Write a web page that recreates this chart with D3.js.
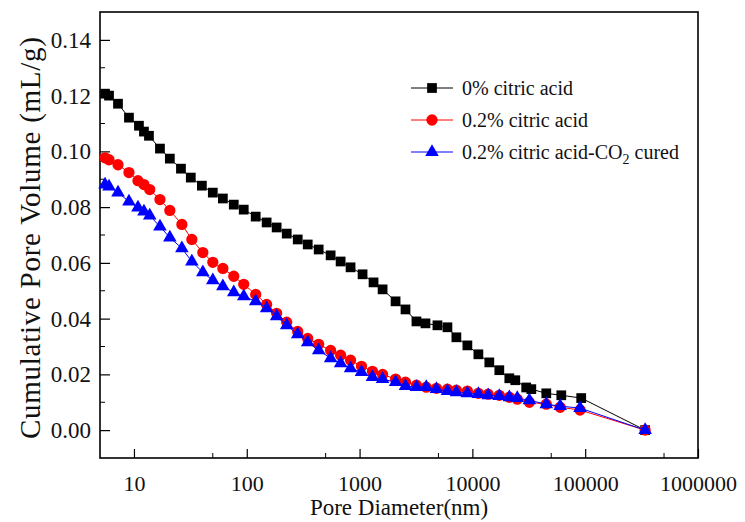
<!DOCTYPE html>
<html>
<head>
<meta charset="utf-8">
<script src="https://cdn.jsdelivr.net/npm/d3@7"></script>
<style>
  body { margin: 0; background: #fff; }
  svg { font-family: "Liberation Serif", "Times New Roman", serif; }
</style>
</head>
<body>
<div id="chart"></div>
<script>
// Pore diameters (nm) and cumulative pore volume (mL/g)
const diamBlack = [5.54, 6.01, 7.22, 9.03, 11.07, 12.26, 13.58, 17.0, 20.8, 26.1, 31.9, 40.0,
  50.0, 61.4, 76.7, 94.0, 120, 150, 184, 226, 283, 347, 434, 554, 679, 832, 1063, 1330,
  1600, 2085, 2553, 3193, 3838, 4900, 6010, 7215, 9030, 11300, 14130, 17330, 21250,
  24000, 30000, 33300, 45200, 61400, 92200, 340000];
const volBlack = [0.1207, 0.1200, 0.1171, 0.1121, 0.1092, 0.1071, 0.1056, 0.1010, 0.0974,
  0.0938, 0.0906, 0.0877, 0.0852, 0.0831, 0.0809, 0.0791, 0.0766, 0.0745, 0.0727, 0.0705,
  0.0684, 0.0666, 0.0648, 0.0627, 0.0605, 0.0584, 0.0559, 0.0530, 0.0505, 0.0462, 0.0433,
  0.0390, 0.0383, 0.0376, 0.0369, 0.0333, 0.0304, 0.0272, 0.0243, 0.0215, 0.0186, 0.0179,
  0.0153, 0.0147, 0.0132, 0.0125, 0.0115, 0.0000];

const diamAcid = [5.54, 6.01, 7.22, 9.03, 10.85, 12.26, 13.8, 17.0, 20.8, 26.6, 32.6, 40.8,
  50.0, 61.4, 76.7, 94.0, 120, 150, 184, 226, 283, 347, 434, 554, 679, 832, 1040, 1300,
  1600, 2085, 2553, 3193, 3900, 4800, 6010, 7215, 9030, 11300, 13800, 17330, 21250,
  25000, 32000, 45200, 60000, 90000, 340000];
const volAcid = [0.0977, 0.0970, 0.0952, 0.0924, 0.0895, 0.0881, 0.0863, 0.0827, 0.0788,
  0.0738, 0.0684, 0.0637, 0.0602, 0.0580, 0.0552, 0.0523, 0.0487, 0.0451, 0.0419, 0.0387,
  0.0354, 0.0329, 0.0308, 0.0286, 0.0269, 0.0251, 0.0229, 0.0211, 0.0200, 0.0183, 0.0172,
  0.0161, 0.0154, 0.0150, 0.0147, 0.0143, 0.0140, 0.0132, 0.0129, 0.0125, 0.0118, 0.0111,
  0.0100, 0.0093, 0.0082, 0.0072, 0.0000];
const volCured = [0.0881, 0.0874, 0.0852, 0.0820, 0.0798, 0.0784, 0.0770, 0.0730, 0.0691,
  0.0652, 0.0605, 0.0566, 0.0537, 0.0516, 0.0494, 0.0480, 0.0462, 0.0437, 0.0408, 0.0376,
  0.0344, 0.0315, 0.0286, 0.0258, 0.0240, 0.0222, 0.0208, 0.0190, 0.0183, 0.0172, 0.0158,
  0.0154, 0.0154, 0.0147, 0.0140, 0.0136, 0.0132, 0.0129, 0.0125, 0.0122, 0.0118, 0.0115,
  0.0107, 0.0093, 0.0086, 0.0079, 0.0000];

const seriesNames = ["0% citric acid", "0.2% citric acid", "0.2% citric acid-CO2 cured"];
const seriesColors = ["#000000", "#ff0000", "#0000ff"];
const xTicks = [10, 100, 1000, 10000, 100000, 1000000];
const yTicks = [0.00, 0.02, 0.04, 0.06, 0.08, 0.10, 0.12, 0.14];

const width = 745, height = 522;
const margin = { top: 12, right: 47, bottom: 64, left: 100 };

const svg = d3.select("#chart")
  .append("svg")
  .attr("width", width)
  .attr("height", height);

const x = d3.scaleLog()
  .domain([5, 1000000])
  .range([margin.left, width - margin.right]);

const y = d3.scaleLinear()
  .domain([-0.01, 0.15])
  .range([height - margin.bottom, margin.top]);

// inward ticks, major + minor
const xAxis = svg.append("g")
  .attr("transform", `translate(0, ${height - margin.bottom})`)
  .call(d3.axisBottom(x).tickValues(xTicks).tickFormat(d3.format("d")).tickSizeInner(-9).tickSizeOuter(0));
xAxis.append("g").selectAll("line")
  .data([50, 500, 5000, 50000, 500000])
  .enter().append("line")
  .attr("x1", d => x(d)).attr("x2", d => x(d))
  .attr("y1", 0).attr("y2", -5)
  .attr("stroke", "black");

const yAxis = svg.append("g")
  .attr("transform", `translate(${margin.left}, 0)`)
  .call(d3.axisLeft(y).tickValues(yTicks).tickFormat(d3.format(".2f")).tickSizeInner(-10).tickSizeOuter(0));
yAxis.append("g").selectAll("line")
  .data([0.01, 0.03, 0.05, 0.07, 0.09, 0.11, 0.13])
  .enter().append("line")
  .attr("y1", d => y(d)).attr("y2", d => y(d))
  .attr("x1", 0).attr("x2", 5)
  .attr("stroke", "black");

svg.selectAll(".tick line").attr("stroke", "black").attr("stroke-width", 1.2);
svg.selectAll(".domain").remove();
xAxis.selectAll(".tick text")
  .attr("y", 17)
  .style("font-size", "22px")
  .style("font-family", "Liberation Serif")
  .attr("fill", "#111");
yAxis.selectAll(".tick text")
  .attr("x", -9)
  .style("font-size", "23px")
  .style("font-family", "Liberation Serif")
  .attr("fill", "#111");

// frame
svg.append("rect")
  .attr("x", margin.left)
  .attr("y", margin.top)
  .attr("width", width - margin.left - margin.right)
  .attr("height", height - margin.top - margin.bottom)
  .attr("fill", "none")
  .attr("stroke", "black")
  .attr("stroke-width", 1.6);

// axis labels
svg.append("text")
  .attr("x", (margin.left + width - margin.right) / 2)
  .attr("y", 515)
  .attr("text-anchor", "middle")
  .style("font-size", "23px")
  .attr("fill", "#111")
  .text("Pore Diameter(nm)");

svg.append("text")
  .attr("transform", "rotate(-90)")
  .attr("x", -238)
  .attr("y", 40)
  .attr("text-anchor", "middle")
  .attr("textLength", 402)
  .style("font-size", "29px")
  .attr("fill", "#111")
  .text("Cumulative Pore Volume  (mL/g)");

const series = [
  { xs: diamBlack, ys: volBlack, symbol: d3.symbolSquare, size: 95 },
  { xs: diamAcid, ys: volAcid, symbol: d3.symbolCircle, size: 100 },
  { xs: diamAcid, ys: volCured, symbol: d3.symbolTriangle, size: 80 }
];

const line = d3.line()
  .x(d => x(d[0]))
  .y(d => y(d[1]));

series.forEach((s, i) => {
  const pts = s.xs.map((d, j) => [d, s.ys[j]]);
  svg.append("path")
    .datum(pts)
    .attr("d", line)
    .attr("fill", "none")
    .attr("stroke", seriesColors[i])
    .attr("stroke-width", 1);
  svg.append("g").selectAll("path")
    .data(pts)
    .enter().append("path")
    .attr("d", d3.symbol().type(s.symbol).size(s.size))
    .attr("transform", d => `translate(${x(d[0])},${y(d[1])})`)
    .attr("fill", seriesColors[i]);
});

// legend
const legend = svg.append("g").attr("transform", "translate(411, 88)");
series.forEach((s, i) => {
  const gy = i * 32;
  legend.append("line")
    .attr("x1", 0).attr("x2", 42)
    .attr("y1", gy).attr("y2", gy)
    .attr("stroke", seriesColors[i]).attr("stroke-width", 1);
  legend.append("path")
    .attr("d", d3.symbol().type(s.symbol).size(s.size))
    .attr("transform", `translate(21,${gy})`)
    .attr("fill", seriesColors[i]);
  const t = legend.append("text")
    .attr("x", 51)
    .attr("y", gy + 7)
    .style("font-size", "20px")
    .attr("fill", "#111");
  if (i === 2) {
    t.append("tspan").text("0.2% citric acid-CO");
    t.append("tspan").attr("dy", 5).style("font-size", "14px").text("2");
    t.append("tspan").attr("dy", -5).text(" cured");
  } else {
    t.text(seriesNames[i]);
  }
});
</script>
</body>
</html>
